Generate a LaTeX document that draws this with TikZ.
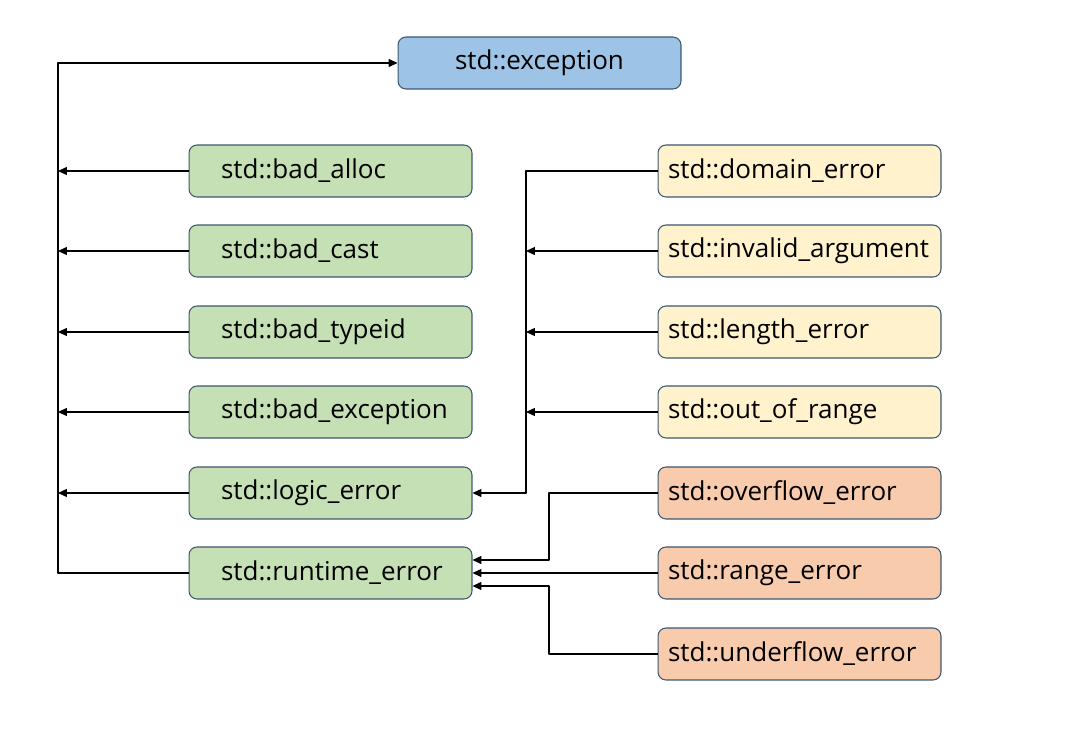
\documentclass[tikz,border=0pt]{standalone}
\usepackage{fontspec}
\setmainfont{Open Sans}
\usepackage{xcolor}
\usetikzlibrary{arrows.meta}

\definecolor{excfill}{HTML}{9DC3E6}
\definecolor{stdfill}{HTML}{C5E0B4}
\definecolor{logfill}{HTML}{FFF2CC}
\definecolor{runfill}{HTML}{F8CBAD}
\definecolor{boxline}{HTML}{3E5670}

\begin{document}
\begin{tikzpicture}[x=0.02cm, y=-0.02cm, line join=round,
    box/.style={draw=boxline, line width=0.6pt, rounded corners=0.16cm,
      minimum width=5.66cm, minimum height=1.04cm, font=\fontsize{14.8}{16}\selectfont},
    gbox/.style={box, fill=stdfill, inner xsep=0.64cm, text width=4.38cm, align=left},
    ybox/.style={box, fill=logfill, inner xsep=0.2cm, text width=5.26cm, align=left},
    obox/.style={box, fill=runfill, inner xsep=0.2cm, text width=5.26cm, align=left},
    link/.style={line width=0.6pt, -{Triangle[length=5pt,width=4.5pt]}}]
  \useasboundingbox (0,0) rectangle (1066,730);

  % --- ROOT ---
  \node[box, fill=excfill] (exc) at (539.5,63) {std::exception};

  % --- DIRECT CHILDREN (green) ---
  \foreach \nm/\txt/\y in {alloc/bad\_alloc/171, cast/bad\_cast/251,
      typeid/bad\_typeid/332, badexc/bad\_exception/412,
      logic/logic\_error/493, runtime/runtime\_error/573} {
    \node[gbox] (\nm) at (330.5,\y) {std::\txt};
  }

  % --- LOGIC ERRORS (yellow) ---
  \foreach \nm/\txt/\y in {domain/domain\_error/171, invalid/invalid\_argument/251,
      length/length\_error/332, outrange/out\_of\_range/412} {
    \node[ybox] (\nm) at (799.5,\y) {std::\txt};
  }

  % --- RUNTIME ERRORS (orange) ---
  \foreach \nm/\txt/\y in {overflow/overflow\_error/493, rangeerr/range\_error/573,
      underflow/underflow\_error/654} {
    \node[obox] (\nm) at (799.5,\y) {std::\txt};
  }

  % bus lines
  \coordinate (ltop) at (58,63);
  \coordinate (lbot) at (58,573);
  \coordinate (lbus) at (526,0);
  \coordinate (rbus) at (549,0);

  % to std::exception
  \draw[link] (runtime.west) -- (lbot) -- (ltop) -- (exc.west);
  \foreach \nm in {alloc, cast, typeid, badexc, logic}
    \draw[link] (\nm.west) -- (\nm.west -| ltop);

  % to std::logic_error
  \draw[link] (domain.west) -- (domain.west -| lbus) |- (logic.east);
  \foreach \nm in {invalid, length, outrange}
    \draw[link] (\nm.west) -- (\nm.west -| lbus);

  % to std::runtime_error
  \draw[link] (overflow.west) -- (overflow.west -| rbus) |- ([yshift=0.26cm]runtime.east);
  \draw[link] (rangeerr.west) -- (runtime.east);
  \draw[link] (underflow.west) -- (underflow.west -| rbus) |- ([yshift=-0.26cm]runtime.east);
\end{tikzpicture}
\end{document}
